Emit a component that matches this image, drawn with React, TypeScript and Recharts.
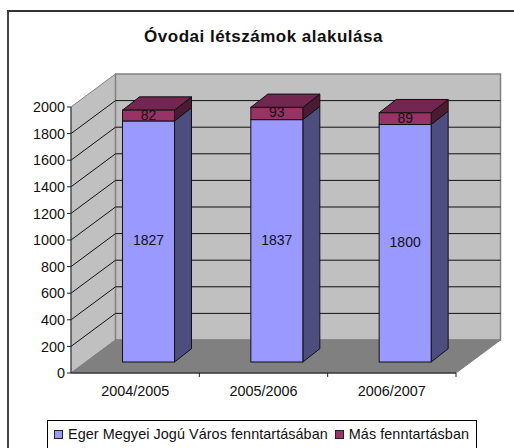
import { BarChart, Bar, XAxis, YAxis, Legend, LabelList, usePlotArea } from "recharts";

const categories = ["2004/2005", "2005/2006", "2006/2007"];
const egerValues = [1827, 1837, 1800];
const otherValues = [82, 93, 89];
const yTicks = [0, 200, 400, 600, 800, 1000, 1200, 1400, 1600, 1800, 2000];
const seriesNames = ["Eger Megyei Jogú Város fenntartásában", "Más fenntartásban"];

const data = categories.map((name, i) => ({ name, eger: egerValues[i], other: otherValues[i] }));

const FONT = '"Liberation Sans", Arial, sans-serif';
const Y_MAX = 2000;
const PLOT_BOTTOM = 373;
// 3D look: wall depth and where the bars sit inside that depth
const DEPTH_X = 44.5;
const DEPTH_Y = 33;
const BAR_SHIFT_X = 13.5;
const BAR_SHIFT_Y = 11;
const BAR_DX = 17;
const BAR_DY = 13.3;
const BAR_SHRINK = 0.992; // bars stand further back than the axis, so they read slightly shorter

function Walls() {
  const plot = usePlotArea();
  if (!plot) return null;
  const { x, y, width, height } = plot;
  const b = y + height;
  const r = x + width;
  const ticksX = categories.map((_, i) => x + (width * (i + 1)) / categories.length);
  return (
    <g>
      <polygon points={`${x},${y} ${x + DEPTH_X},${y - DEPTH_Y} ${x + DEPTH_X},${b - DEPTH_Y} ${x},${b}`} fill="#c0c0c0" stroke="#808080" />
      <rect x={x + DEPTH_X} y={y - DEPTH_Y} width={width} height={height} fill="#c0c0c0" stroke="#808080" strokeWidth={1.5} />
      <polygon points={`${x},${b} ${x + DEPTH_X},${b - DEPTH_Y} ${r + DEPTH_X},${b - DEPTH_Y} ${r},${b}`} fill="#808080" stroke="#808080" />
      {yTicks.slice(1, -1).map((t) => {
        const ty = b - (height * t) / Y_MAX;
        return (
          <g key={t} stroke="#111">
            <line x1={x} y1={ty} x2={x + DEPTH_X} y2={ty - DEPTH_Y} />
            <line x1={x + DEPTH_X} y1={ty - DEPTH_Y} x2={r + DEPTH_X} y2={ty - DEPTH_Y} />
          </g>
        );
      })}
      {ticksX.map((tx) => (
        <line key={tx} x1={tx} x2={tx} y1={b} y2={b + 4} stroke="#222" />
      ))}
    </g>
  );
}

function makeBar(front: string, side: string, top?: string) {
  return function Bar3D(props: any) {
    const { x, y, width, height } = props;
    const l = x + BAR_SHIFT_X;
    const t = PLOT_BOTTOM - BAR_SHIFT_Y - (PLOT_BOTTOM - y) * BAR_SHRINK;
    const h = height * BAR_SHRINK;
    const rr = l + width;
    const bb = t + h;
    return (
      <g stroke="#111" strokeWidth={1}>
        <polygon points={`${rr},${t} ${rr + BAR_DX},${t - BAR_DY} ${rr + BAR_DX},${bb - BAR_DY} ${rr},${bb}`} fill={side} />
        {top && <polygon points={`${l},${t} ${l + BAR_DX},${t - BAR_DY} ${rr + BAR_DX},${t - BAR_DY} ${rr},${t}`} fill={top} />}
        <rect x={l} y={t} width={width} height={h} fill={front} />
      </g>
    );
  };
}

function BarValue(props: any) {
  const { x, y, width, height, value } = props;
  const t = PLOT_BOTTOM - BAR_SHIFT_Y - (PLOT_BOTTOM - y) * BAR_SHRINK;
  return (
    <text x={x + width / 2 + BAR_SHIFT_X} y={t + (height * BAR_SHRINK) / 2 - 1} textAnchor="middle" dominantBaseline="central" fontSize={14} fontFamily={FONT} fill="#111">
      {value}
    </text>
  );
}

function LegendBox() {
  const colors = ["#9999ff", "#993366"];
  return (
    <div style={{ position: "absolute", left: 47, top: 420, width: 430, height: 40, border: "1px solid #000", background: "#fff", boxSizing: "border-box", display: "flex", fontFamily: FONT, fontSize: 14.4, letterSpacing: 0.06, color: "#111", paddingLeft: 6, whiteSpace: "nowrap" }}>
      {seriesNames.map((name, i) => (
        <span key={name} style={{ display: "flex", alignItems: "center", height: 26, marginRight: 7 }}>
          <span style={{ width: 7, height: 7, background: colors[i], border: "1px solid #222", marginRight: 5 }} />
          {name}
        </span>
      ))}
    </div>
  );
}

export default function App() {
  return (
    <div style={{ position: "absolute", left: 0, top: 0, width: 514, height: 448, overflow: "hidden", background: "#fff" }}>
      <div style={{ position: "absolute", left: 7, top: 10, width: 520, height: 460, borderTop: "2px solid #333", borderLeft: "2px solid #444", boxSizing: "border-box" }} />
      <div style={{ position: "absolute", left: 0, top: 27, width: 527, textAlign: "center", fontFamily: FONT, fontWeight: 700, fontSize: 17, letterSpacing: 0.5, color: "#111" }}>
        Óvodai létszámok alakulása
      </div>
      <BarChart width={514} height={448} data={data} margin={{ top: 107, right: 58, bottom: 45, left: 11 }} style={{ position: "absolute", left: 0, top: 0 }}>
        <Walls />
        <XAxis dataKey="name" height={30} tickLine={false} axisLine={{ stroke: "#111" }} tick={{ fontSize: 14.4, fontFamily: FONT, fill: "#111" }} tickMargin={7} />
        <YAxis width={60} domain={[0, Y_MAX]} ticks={yTicks} interval={0} tickSize={4} axisLine={{ stroke: "#333" }} tickLine={{ stroke: "#222" }} tick={{ fontSize: 14.4, fontFamily: FONT, fill: "#111" }} />
        <Legend content={() => null} />
        <Bar dataKey="eger" name={seriesNames[0]} stackId="a" barSize={52} isAnimationActive={false} shape={makeBar("#9999ff", "#4d4d80")}>
          <LabelList dataKey="eger" content={BarValue} />
        </Bar>
        <Bar dataKey="other" name={seriesNames[1]} stackId="a" barSize={52} isAnimationActive={false} shape={makeBar("#993366", "#4d1a33", "#732650")}>
          <LabelList dataKey="other" content={BarValue} />
        </Bar>
      </BarChart>
      <LegendBox />
    </div>
  );
}
